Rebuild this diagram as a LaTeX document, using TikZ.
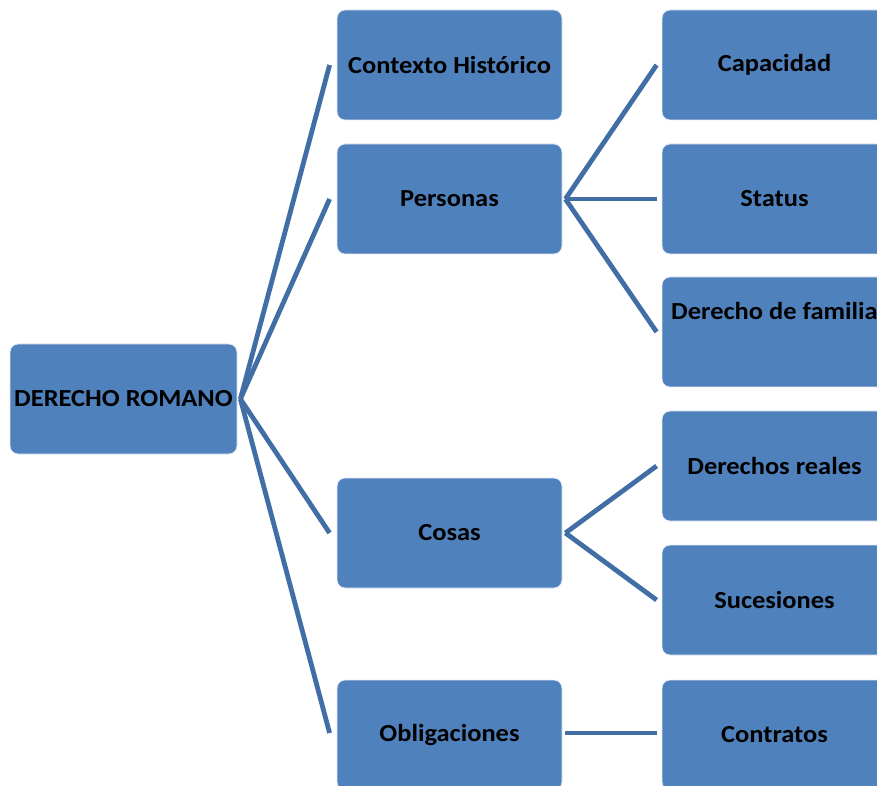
\documentclass[tikz,border=0pt]{standalone}
\usepackage{fontspec}
\setmainfont{Carlito}[FakeStretch=1.08]
\definecolor{boxblue}{RGB}{79,129,189}
\definecolor{lineblue}{RGB}{66,110,166}
\begin{document}
\begin{tikzpicture}[x=1pt,y=1pt,
  box/.style={draw=white!85!boxblue,line width=0.8pt,fill=boxblue,rounded corners=8pt,
    minimum width=225pt,minimum height=110pt,inner sep=0pt,
    font=\fontsize{24.5}{29}\selectfont\bfseries,text=black},
  conn/.style={draw=lineblue,line width=4.8pt}]
\useasboundingbox (0,0) rectangle (877,785);
\clip (0,0) rectangle (877,785);
% root
\node[box,minimum width=227pt] (root) at (123.5,386) {DERECHO ROMANO};
% middle column
\node[box] (ctx) at (449.5,720) {Contexto Histórico};
\node[box] (per) at (449.5,586) {Personas};
\node[box] (cos) at (449.5,252) {Cosas};
\node[box] (obl) at (449.5,50) {Obligaciones};
% right column
\node[box] (cap) at (774.5,720) {Capacidad};
\node[box] (sta) at (774.5,586) {Status};
\node[box] (fam) at (774.5,453) {};
\node[font=\fontsize{24.5}{29}\selectfont\bfseries,anchor=west,inner sep=0pt] (famt) at (671,474) {Derecho de familia};
\node[box] (dre) at (774.5,319) {Derechos reales};
\node[box] (suc) at (774.5,185) {Sucesiones};
\node[box] (con) at (774.5,50) {Contratos};
% connectors
\foreach \t in {ctx,per,cos}
  \draw[conn] ([xshift=3pt]root.east) -- ([xshift=-7pt]\t.west);
\draw[conn] ([xshift=3pt]root.east) -- ([xshift=-7pt,yshift=2pt]obl.west);
\foreach \t in {cap,sta,fam}
  \draw[conn] ([xshift=3pt]per.east) -- ([xshift=-5pt]\t.west);
\foreach \t in {dre,suc}
  \draw[conn] ([xshift=3pt]cos.east) -- ([xshift=-5pt]\t.west);
\draw[conn] ([xshift=3pt,yshift=2pt]obl.east) -- ([xshift=-5pt,yshift=2pt]con.west);
\end{tikzpicture}
\end{document}
